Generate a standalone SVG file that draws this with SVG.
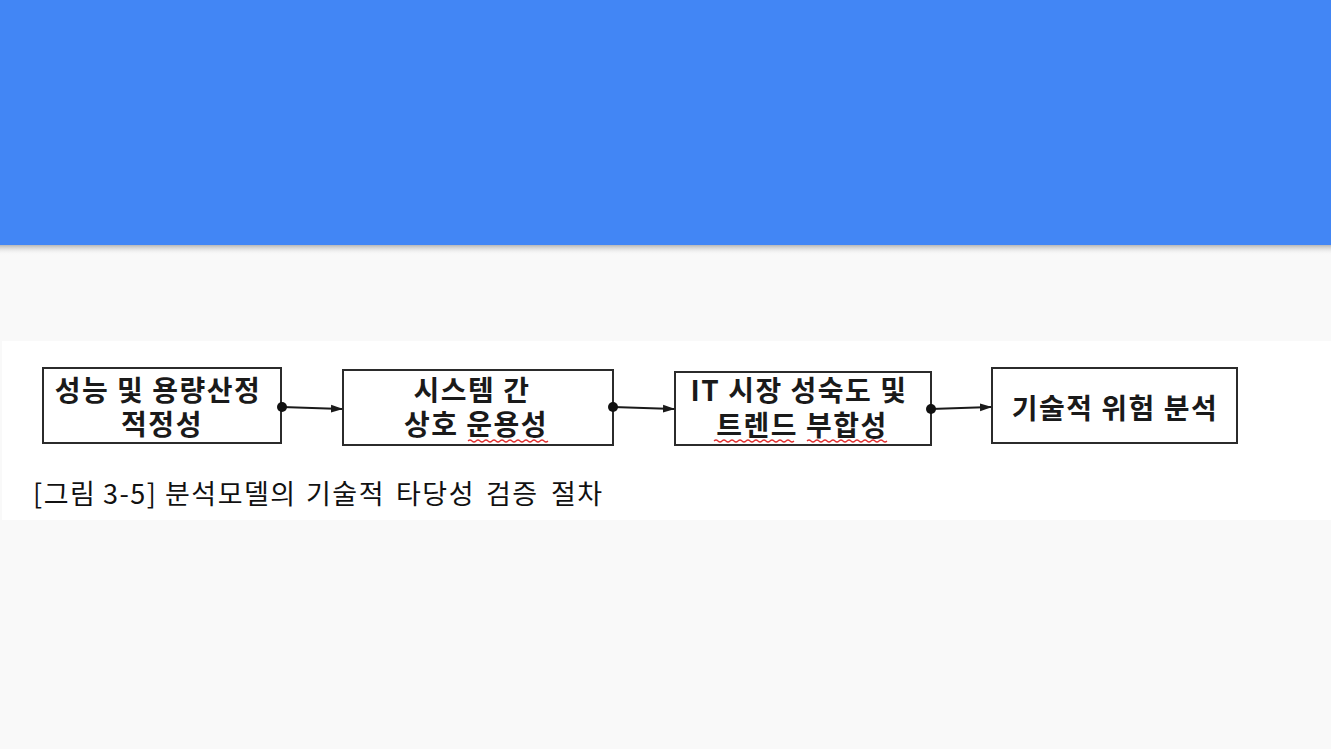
<svg xmlns="http://www.w3.org/2000/svg" width="1331" height="749" viewBox="0 0 1331 749">
<style>
.box{fill:#ffffff;stroke:#2b2b2b;stroke-width:2}
.t{font-family:"Noto Sans CJK KR","Noto Sans",sans-serif;font-weight:700;font-size:28px;letter-spacing:1.5px;fill:#1a1a1a;text-anchor:middle}
.cap{font-family:"Noto Sans CJK KR","Noto Sans",sans-serif;font-weight:400;font-size:27px;letter-spacing:1.5px;fill:#111111}
.conn{stroke:#1a1a1a;stroke-width:2;fill:none}
.sq{stroke:#e03030;stroke-width:1.2;fill:none}
</style>
<defs>
<marker id="arr" markerWidth="12" markerHeight="10" refX="11" refY="5" orient="auto" markerUnits="userSpaceOnUse">
<path d="M0,1 L12,5 L0,9 Z" fill="#1a1a1a"/>
</marker>
<marker id="dot" markerWidth="12" markerHeight="12" refX="6" refY="6" markerUnits="userSpaceOnUse">
<circle cx="6" cy="6" r="5" fill="#111111"/>
</marker>
<linearGradient id="sh" x1="0" y1="0" x2="0" y2="1">
<stop offset="0" stop-color="#9a9a9a" stop-opacity="0.7"/>
<stop offset="1" stop-color="#f9f9f9" stop-opacity="0"/>
</linearGradient>
</defs>
<rect x="0" y="0" width="1331" height="749" fill="#f9f9f9"/>
<rect x="0" y="0" width="1331" height="245" fill="#4286f5"/>
<rect x="0" y="245" width="1331" height="10" fill="url(#sh)"/>
<rect x="2" y="341" width="1329" height="179" fill="#ffffff"/>
<g id="node1">
<rect class="box" x="43" y="368" width="238" height="75"/>
<text class="t" x="158" y="401">성능 및 용량산정</text>
<text class="t" x="162" y="435">적정성</text>
</g>
<g id="node2">
<rect class="box" x="343" y="370" width="270" height="75"/>
<text class="t" x="472" y="401">시스템 간</text>
<text class="t" x="476" y="435">상호 운용성</text>
<path class="sq" d="M468,441 q2,-2 4,0 t4,0 t4,0 t4,0 t4,0 t4,0 t4,0 t4,0 t4,0 t4,0 t4,0 t4,0 t4,0 t4,0 t4,0 t4,0 t4,0 t4,0 t4,0 t4,0"/>
</g>
<g id="node3">
<rect class="box" x="675" y="372" width="256" height="73"/>
<text class="t" x="799" y="401">IT 시장 성숙도 및</text>
<text class="t" x="802" y="436">트렌드 부합성</text>
<path class="sq" d="M714,441 q2,-2 4,0 t4,0 t4,0 t4,0 t4,0 t4,0 t4,0 t4,0 t4,0 t4,0 t4,0 t4,0 t4,0 t4,0 t4,0 t4,0 t4,0 t4,0 t4,0 t4,0"/>
<path class="sq" d="M807,441 q2,-2 4,0 t4,0 t4,0 t4,0 t4,0 t4,0 t4,0 t4,0 t4,0 t4,0 t4,0 t4,0 t4,0 t4,0 t4,0 t4,0 t4,0 t4,0 t4,0 t4,0"/>
</g>
<g id="node4">
<rect class="box" x="992" y="368" width="245" height="75"/>
<text class="t" x="1115" y="419">기술적 위험 분석</text>
</g>
<g id="connectors">
<line class="conn" x1="282" y1="407" x2="342" y2="409" marker-start="url(#dot)" marker-end="url(#arr)"/>
<line class="conn" x1="613" y1="407" x2="674" y2="409" marker-start="url(#dot)" marker-end="url(#arr)"/>
<line class="conn" x1="931" y1="409" x2="991" y2="407" marker-start="url(#dot)" marker-end="url(#arr)"/>
</g>
<text class="cap" y="504"><tspan x="33">[그림</tspan><tspan x="103">3-5]</tspan><tspan x="165">분석모델의</tspan><tspan x="306">기술적</tspan><tspan x="396">타당성</tspan><tspan x="486">검증</tspan><tspan x="551">절차</tspan></text>
</svg>
